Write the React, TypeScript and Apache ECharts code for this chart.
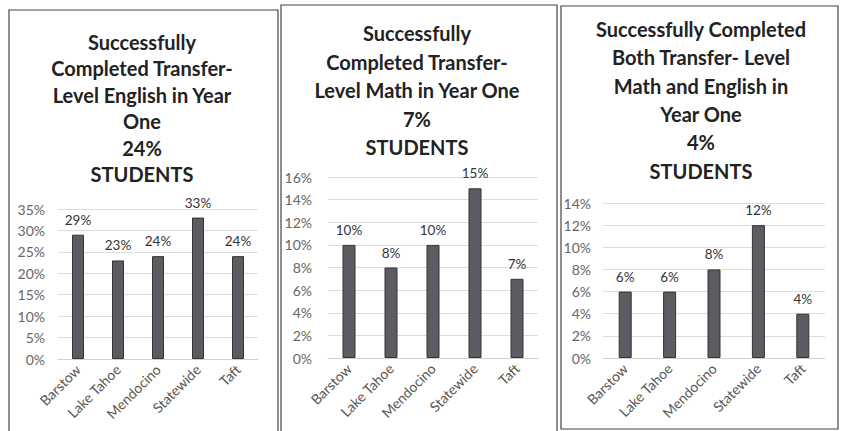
import React, { useEffect, useRef } from "react";
import * as echarts from "echarts";

const categories = ["Barstow", "Lake Tahoe", "Mendocino", "Statewide", "Taft"];

const englishValues = [29, 23, 24, 33, 24];
const mathValues = [10, 8, 10, 15, 7];
const bothValues = [6, 6, 8, 12, 4];

const englishTitle = ["Successfully", "Completed Transfer-", "Level English in Year", "One", "24%", "STUDENTS"];
const mathTitle = ["Successfully", "Completed Transfer-", "Level Math in Year One", "7%", "STUDENTS"];
const bothTitle = ["Successfully Completed", "Both Transfer- Level", "Math and English in", "Year One", "4%", "STUDENTS"];

const englishAxis = { max: 35, interval: 5 };
const mathAxis = { max: 16, interval: 2 };
const bothAxis = { max: 14, interval: 2 };

const FONT = "Lato, 'Open Sans', sans-serif";

const panels = [
  {
    values: englishValues, title: englishTitle, axis: englishAxis,
    border: { x: 9, y: 10, w: 269, h: 430 },
    grid: { left: 58, top: 209, width: 200, height: 150 },
    titleX: 142, titleY: 42, lh: 26.4, barWidth: 12, labelMargin: 13,
  },
  {
    values: mathValues, title: mathTitle, axis: mathAxis,
    border: { x: 281, y: 5, w: 276, h: 435 },
    grid: { left: 328, top: 177, width: 210, height: 181 },
    titleX: 417, titleY: 33, lh: 28.5, barWidth: 13, labelMargin: 16,
  },
  {
    values: bothValues, title: bothTitle, axis: bothAxis,
    border: { x: 561, y: 6, w: 277, h: 423 },
    grid: { left: 603, top: 203, width: 222, height: 155 },
    titleX: 701, titleY: 29, lh: 28.3, barWidth: 13, labelMargin: 12,
  },
];

export default function App() {
  const ref = useRef<HTMLDivElement>(null);

  useEffect(() => {
    if (!ref.current) return;
    const chart = echarts.init(ref.current, null, { renderer: "svg" });

    const graphics: any[] = [];
    panels.forEach((p) => {
      graphics.push({
        type: "rect",
        shape: { x: p.border.x, y: p.border.y, width: p.border.w, height: p.border.h },
        style: { fill: "none", stroke: "#444", lineWidth: 1.2 },
        silent: true,
      });
      p.title.forEach((line, i) => {
        graphics.push({
          type: "text",
          x: p.titleX,
          y: p.titleY + i * p.lh,
          style: {
            text: line,
            fill: "#222",
            font: `bold 20px ${FONT}`,
            textAlign: "center",
            textVerticalAlign: "middle",
          },
          silent: true,
        });
      });
    });

    chart.setOption({
      animation: false,
      backgroundColor: "#fff",
      grid: panels.map((p) => ({ ...p.grid, containLabel: false })),
      xAxis: panels.map((p, i) => ({
        type: "category",
        gridIndex: i,
        data: categories,
        axisLine: { show: true, lineStyle: { color: "#d0d0d0", width: 1 } },
        axisTick: { show: false },
        axisLabel: {
          rotate: 45,
          interval: 0,
          margin: 8,
          color: "#555",
          fontSize: 14,
          fontFamily: FONT,
        },
      })),
      yAxis: panels.map((p, i) => ({
        type: "value",
        gridIndex: i,
        min: 0,
        max: p.axis.max,
        interval: p.axis.interval,
        axisLine: { show: false },
        axisTick: { show: false },
        splitLine: { lineStyle: { color: "#dcdcdc", width: 1 } },
        axisLabel: {
          formatter: "{value}%",
          color: "#666",
          fontSize: 14,
          fontFamily: FONT,
          margin: p.labelMargin,
        },
      })),
      series: panels.map((p, i) => ({
        type: "bar",
        xAxisIndex: i,
        yAxisIndex: i,
        data: p.values,
        barWidth: p.barWidth,
        itemStyle: { color: "#5b5d62", borderColor: "#333", borderWidth: 1 },
        label: {
          show: true,
          position: "top",
          distance: 8,
          formatter: "{c}%",
          color: "#333",
          fontSize: 13.5,
          fontFamily: FONT,
        },
      })),
      graphic: graphics,
    });

    return () => chart.dispose();
  }, []);

  return (
    <div
      ref={ref}
      style={{ position: "fixed", left: 0, top: 0, width: 845, height: 431 }}
    />
  );
}
